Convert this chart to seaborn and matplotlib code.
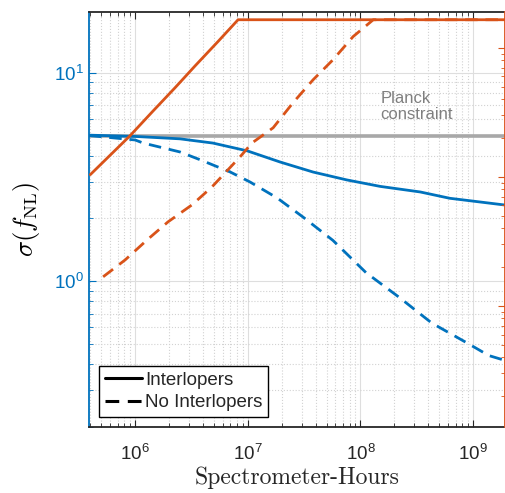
#!/usr/bin/env python3
"""sigma(f_NL) versus spectrometer-hours, with and without interlopers."""

import matplotlib
matplotlib.use("Agg")
import matplotlib.pyplot as plt
from matplotlib.lines import Line2D
from matplotlib.ticker import LogLocator, NullFormatter
import seaborn as sns

BLUE = "#0072BD"
ORANGE = "#D95319"

# left axis: sigma(f_NL)
hours_blue_int = [3.9e5, 1e6, 2.5e6, 4.9e6, 9.9e6, 1.94e7, 3.8e7, 7.6e7, 1.5e8, 3.4e8, 6.2e8, 1.92e9]
sigma_int = [5.02, 4.95, 4.82, 4.60, 4.22, 3.73, 3.34, 3.06, 2.85, 2.68, 2.50, 2.32]

hours_blue_noint = [3.9e5, 1e6, 1.18e6, 2.5e6, 3.8e6, 7.0e6, 1.05e7, 1.82e7, 3.1e7, 5.7e7,
                    1.12e8, 2.19e8, 4.3e8, 8.6e8, 1.38e9, 1.92e9]
sigma_noint = [5.0, 4.76, 4.6, 4.17, 3.82, 3.34, 2.99, 2.51, 2.03, 1.57,
               1.10, 0.84, 0.63, 0.51, 0.44, 0.417]

# right axis (labels fall outside the image)
hours_orange_int = [4.0e5, 9.0e5, 1.42e6, 2.26e6, 3.41e6, 5.45e6, 8.2e6, 1.92e9]
right_int = [10.4, 20.8, 31.9, 49.0, 72.5, 112, 165, 165]

hours_orange_noint = [5.2e5, 8.15e5, 1.28e6, 1.96e6, 3.2e6, 4.82e6, 8.55e6, 1.09e7, 1.68e7,
                      2.52e7, 3.8e7, 5.7e7, 8.6e7, 1.3e8, 1.92e9]
right_noint = [1.68, 2.27, 3.25, 4.48, 6.07, 8.37, 14.3, 18.3, 24.0,
               37.5, 56.5, 80.7, 122, 165, 165]

PLANCK = 5.0

sns.set_style("white")
plt.rcParams["font.family"] = ["Liberation Sans", "DejaVu Sans"]
plt.rcParams["mathtext.fontset"] = "cm"

fig = plt.figure(figsize=(5.06, 4.93), dpi=100)
ax = fig.add_axes([0.176, 0.134, 0.822, 0.842])
ax.set_xscale("log")
ax.set_yscale("log")

ax.axhline(PLANCK, color="#a8a8a8", lw=2.6, zorder=2)
dash = (0, (4.5, 2.8))
sns.lineplot(x=hours_blue_int, y=sigma_int, ax=ax, color=BLUE, lw=2.0, zorder=3)
sns.lineplot(x=hours_blue_noint, y=sigma_noint, ax=ax, color=BLUE, lw=2.0,
             linestyle=dash, zorder=3)

ax.set_xlim(3.9e5, 1.92e9)
ax.set_ylim(0.2, 19.6)
ax.text(1.5e8, 6.9, "Planck\nconstraint", color="#7f7f7f", fontsize=12,
        ha="left", va="center", linespacing=1.05)

ax.grid(which="major", color="#dedede", lw=0.8)
ax.grid(which="minor", color="#d2d2d2", ls=":", lw=0.8)
ax.set_axisbelow(True)

ax.xaxis.set_major_locator(LogLocator(base=10, numticks=10))
ax.xaxis.set_minor_locator(LogLocator(base=10, subs=range(2, 10), numticks=20))
ax.xaxis.set_minor_formatter(NullFormatter())
ax.yaxis.set_minor_formatter(NullFormatter())
ax.tick_params(axis="x", which="both", direction="in", top=True, bottom=True,
               colors="#262626", labelsize=13.5, pad=12)
ax.tick_params(axis="x", which="major", length=5)
ax.tick_params(axis="x", which="minor", length=3)
ax.tick_params(axis="y", which="both", direction="in", left=True, right=False,
               colors=BLUE, labelsize=13.5)
ax.tick_params(axis="y", which="major", length=5)
ax.tick_params(axis="y", which="minor", length=3)

ax.spines["left"].set_color(BLUE)
ax.spines["left"].set_linewidth(1.3)
ax.spines["right"].set_visible(False)
for side in ("top", "bottom"):
    ax.spines[side].set_color("#262626")
    ax.spines[side].set_linewidth(1.3)

ax.set_ylabel(r"$\sigma(f_{\mathrm{NL}})$", fontsize=19, color="black")
ax.yaxis.set_label_coords(-0.113, 0.5)
ax.set_xlabel("Spectrometer-Hours", fontsize=17, family="cmr10", color="#262626")
ax.xaxis.set_label_coords(0.5, -0.095)

ax2 = ax.twinx()
ax2.set_yscale("log")
sns.lineplot(x=hours_orange_int, y=right_int, ax=ax2, color=ORANGE, lw=2.0)
sns.lineplot(x=hours_orange_noint, y=right_noint, ax=ax2, color=ORANGE, lw=2.0,
             linestyle=dash)
ax2.set_ylim(0.1153, 190)
ax2.set_xlim(3.9e5, 1.92e9)
ax2.set_ylabel("")
ax2.yaxis.set_minor_formatter(NullFormatter())
ax2.tick_params(axis="y", which="both", direction="in", colors=ORANGE,
                labelright=False)
ax2.tick_params(axis="y", which="major", length=5)
ax2.tick_params(axis="y", which="minor", length=3)
ax2.spines["right"].set_color(ORANGE)
ax2.spines["right"].set_linewidth(1.3)
for side in ("left", "top", "bottom"):
    ax2.spines[side].set_visible(False)

handles = [Line2D([], [], color="black", lw=2.2),
           Line2D([], [], color="black", lw=2.2, linestyle=dash)]
leg = ax2.legend(handles, ["Interlopers", "No Interlopers"], loc="lower left",
                 bbox_to_anchor=(0.024, 0.024), borderaxespad=0, fontsize=13.5,
                 fancybox=False, edgecolor="black", framealpha=1,
                 handlelength=2.0, handletextpad=0.15, borderpad=0.3,
                 labelspacing=0.3)
leg.get_frame().set_linewidth(1.0)

fig.savefig("out.png", dpi=100)
